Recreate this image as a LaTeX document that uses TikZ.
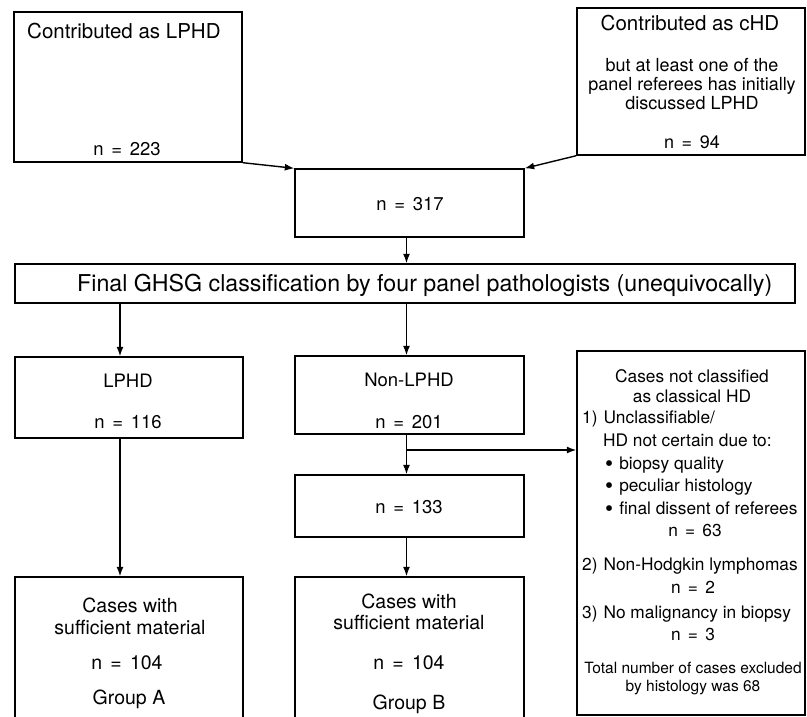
\documentclass[tikz,border=0pt]{standalone}
\usepackage{fontspec}
\setmainfont{TeX Gyre Heros}
\usetikzlibrary{arrows.meta}
\newcommand\eqsp{\hspace{.42em}=\hspace{.42em}}
\newcommand\bul{{\fontsize{23}{23}\selectfont\raisebox{-2pt}{\textbullet}}\hspace{6pt}}
\begin{document}
\begin{tikzpicture}[x=1pt,y=-1pt,
  box/.style={draw,line width=1.4pt,inner sep=0pt},
  arr/.style={line width=1.4pt,-{Latex[length=9.5pt,width=7pt]}},
  big/.style={font=\fontsize{20.5}{24}\selectfont,anchor=base,inner sep=0pt},
  huge/.style={font=\fontsize{23.2}{26}\selectfont,anchor=base,inner sep=0pt},
  mid/.style={font=\fontsize{18.5}{22}\selectfont,anchor=base,inner sep=0pt},
  low/.style={font=\fontsize{19.5}{23}\selectfont,anchor=base,inner sep=0pt},
  sub/.style={font=\fontsize{18}{21}\selectfont,anchor=base,inner sep=0pt},
  sm/.style={font=\fontsize{17.3}{20}\selectfont,anchor=base,inner sep=0pt},
  tiny/.style={font=\fontsize{15.5}{18}\selectfont,anchor=base,inner sep=0pt}]
\clip (0,0) rectangle (807,717);
\fill[white] (0,0) rectangle (807,717);
% boxes
\node[box,minimum width=228,minimum height=150] (b1) at (128,87) {};
\node[box,minimum width=228,minimum height=147] (b2) at (691,81.5) {};
\node[box,minimum width=229,minimum height=68] (b317) at (409.5,203) {};
\node[box,minimum width=780,minimum height=39] (ghsg) at (405,283.5) {};
\node[box,minimum width=228,minimum height=81] (lphd) at (129,397.5) {};
\node[box,minimum width=229,minimum height=78] (nonl) at (409.5,395) {};
\node[box,minimum width=229,minimum height=62] (b133) at (409.5,506) {};
\node[box,minimum width=228,minimum height=163] (bA) at (129,658.5) {};
\node[box,minimum width=229,minimum height=163] (bB) at (409.5,658.5) {};
\node[box,minimum width=228,minimum height=364] (rb) at (691,533) {};
% texts
\node[big,anchor=base west] (t1) at (27,39) {Contributed as LPHD};
\node[mid] (t2) at (127,156) {n\eqsp 223};
\node[big] (t3) at (690,31) {Contributed as cHD};
\node[sub] (t4) at (692,72) {but at least one of the};
\node[sub] (t5) at (692,91) {panel referees has initially};
\node[sub] (t6) at (692,110) {discussed LPHD};
\node[sub] (t7) at (692,148) {n\eqsp 94};
\node[mid] (t8) at (410,210) {n\eqsp 317};
\node[huge,anchor=base west] (t9) at (77,291) {Final GHSG classification by four panel pathologists (unequivocally)};
\node[mid] (t10) at (128,387) {LPHD};
\node[mid] (t11) at (128,428) {n\eqsp 116};
\node[mid] (t12) at (409,386) {Non-LPHD};
\node[mid] (t13) at (409,428) {n\eqsp 201};
\node[mid] (t14) at (409,513) {n\eqsp 133};
\node[low] (t15) at (130,612) {Cases with};
\node[low] (t16) at (130,634) {sufficient material};
\node[low] (t17) at (127,669) {n\eqsp 104};
\node[low] (t18) at (129,704) {Group A};
\node[low] (t19) at (409,608) {Cases with};
\node[low] (t20) at (409,629) {sufficient material};
\node[low] (t21) at (409,669) {n\eqsp 104};
\node[low] (t22) at (409,709) {Group B};
% right box texts
\node[sm] (r1) at (692,382) {Cases not classified};
\node[sm] (r2) at (692,402) {as classical HD};
\node[sm,anchor=base west] (r3) at (582,423) {1)\hspace{6pt}Unclassifiable/};
\node[sm,anchor=base west] (r4) at (603,446) {HD not certain due to:};
\node[sm,anchor=base west] (r5) at (605,469) {\bul biopsy quality};
\node[sm,anchor=base west] (r6) at (605,491) {\bul peculiar histology};
\node[sm,anchor=base west] (r7) at (605,514) {\bul final dissent of referees};
\node[sm] (r8) at (695,536) {n\eqsp 63};
\node[sm,anchor=base west] (r9) at (582,570) {2)\hspace{6pt}Non-Hodgkin lymphomas};
\node[sm] (r10) at (693,593) {n\eqsp 2};
\node[sm,anchor=base west] (r11) at (582,618) {3)\hspace{6pt}No malignancy in biopsy};
\node[sm] (r12) at (693,640) {n\eqsp 3};
\node[tiny] (r13) at (693,673) {Total number of cases excluded};
\node[tiny] (r14) at (693,691) {by histology was 68};
% connectors
\draw[arr] (b1.south east) -- (b317.north west);
\draw[arr] (b2.south west) -- (b317.north east);
\draw[arr] ([xshift=-3pt]b317.south) -- ([xshift=-3pt]b317.south |- ghsg.north);
\draw[arr] ([xshift=-9pt]lphd.north |- ghsg.south) -- ([xshift=-9pt]lphd.north);
\draw[arr] ([xshift=-3pt]nonl.north |- ghsg.south) -- ([xshift=-3pt]nonl.north);
\coordinate (j) at ([xshift=-3pt]nonl.south |- 0,450);
\draw[arr] ([xshift=-3pt]nonl.south) -- ([xshift=-3pt]b133.north);
\draw[arr] (j) -- (rb.west |- j);
\draw[arr] ([xshift=-9pt]lphd.south) -- ([xshift=-9pt]bA.north);
\draw[arr] ([xshift=-3pt]b133.south) -- ([xshift=-3pt]bB.north);
\end{tikzpicture}
\end{document}
